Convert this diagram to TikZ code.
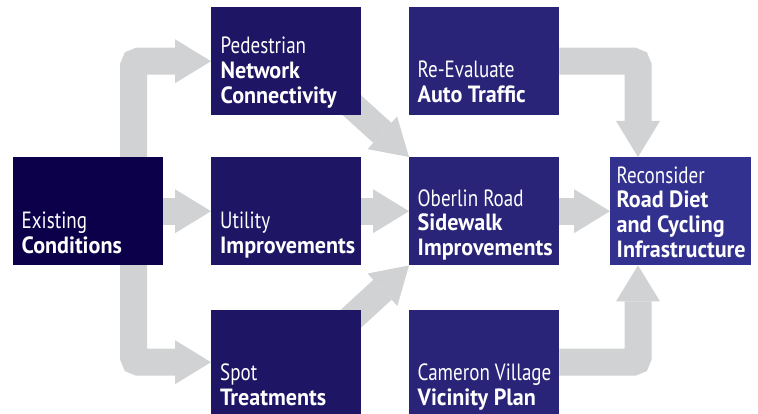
\documentclass[tikz,border=0pt]{standalone}
\usepackage{fontspec}
\setmainfont{PT Sans}[FakeStretch=0.94]
\newfontfamily\lightf{PT Sans}[FakeStretch=0.81]
\usetikzlibrary{arrows.meta,backgrounds}
\definecolor{cex}{HTML}{0B0049}
\definecolor{ctwo}{HTML}{1E1565}
\definecolor{cthree}{HTML}{2A2479}
\definecolor{cfour}{HTML}{33318F}
\definecolor{arrowgray}{HTML}{D1D2D4}
\begin{document}
\begin{tikzpicture}[x=1pt,y=-1pt,
  box/.style={anchor=north west, inner sep=0pt, minimum width=150pt, minimum height=108pt, draw=none},
  lbl/.style={anchor=south west, inner sep=0pt, align=left, text depth=0pt, text=white,
              font=\fontsize{23.5}{24.6}\selectfont},
  flow/.style={draw=arrowgray, line width=27pt, rounded corners=5pt,
               -{Triangle[length=36pt,width=44pt,line width=0pt]}}]
\useasboundingbox (0,0) rectangle (758,414);
% boxes
\node[box, fill=cex] (ex) at (13,157) {};
\node[box, fill=ctwo] (pd) at (211,7) {};
\node[box, fill=ctwo] (ut) at (211,157) {};
\node[box, fill=ctwo, minimum height=104pt] (sp) at (211,310) {};
\node[box, fill=cthree] (re) at (409,7) {};
\node[box, fill=cthree] (ob) at (409,157) {};
\node[box, fill=cthree, minimum height=104pt] (cv) at (409,310) {};
\node[box, fill=cfour, minimum width=141pt] (rc) at (610,157) {};
% labels
\node[lbl] (ext) at ([shift={(8.5,-12)}]ex.south west) {{\lightf Existing}\\\textbf{Conditions}};
\node[lbl] (pdt) at ([shift={(9.5,-12)}]pd.south west) {{\lightf Pedestrian}\\\textbf{Network}\\\textbf{Connectivity}};
\node[lbl] (utt) at ([shift={(9,-12)}]ut.south west) {{\lightf Utility}\\\textbf{Improvements}};
\node[lbl] (spt) at ([shift={(9,-9)}]sp.south west) {{\lightf Spot}\\\textbf{Treatments}};
\node[lbl] (ret) at ([shift={(8.5,-13)}]re.south west) {{\lightf Re-Evaluate}\\\textbf{Auto Traffic}};
\node[lbl] (obt) at ([shift={(8.5,-10)}]ob.south west) {{\lightf Oberlin Road}\\\textbf{Sidewalk}\\\textbf{Improvements}};
\node[lbl] (cvt) at ([shift={(8.5,-9)}]cv.south west) {{\lightf Cameron Village}\\\textbf{Vicinity Plan}};
\node[lbl] (rct) at ([shift={(6.5,-8)}]rc.south west) {{\lightf Reconsider}\\\textbf{Road Diet}\\\textbf{and Cycling}\\\textbf{Infrastructure}};
% connectors
\begin{scope}[on background layer]
\fill[white] (0,0) rectangle (758,414);
\draw[flow] ([xshift=45.5pt]ex.center) |- (pd.west);
\draw[flow] ([xshift=45.5pt]ex.center) |- (sp.west);
\draw[flow] (ex.east) -- (ut.west);
\draw[flow] (ut.east) -- (ob.west);
\draw[flow] (ob.east) -- (rc.west);
\draw[flow] ([shift={(-38,-36)}]pd.south east) -- (ob.north west);
\draw[flow] ([shift={(-38,34)}]sp.north east) -- (ob.south west);
\draw[flow] (re.east) -| ([xshift=28pt]rc.north west);
\draw[flow] (cv.east) -| ([xshift=28pt]rc.south west);
\end{scope}
\end{tikzpicture}
\end{document}
